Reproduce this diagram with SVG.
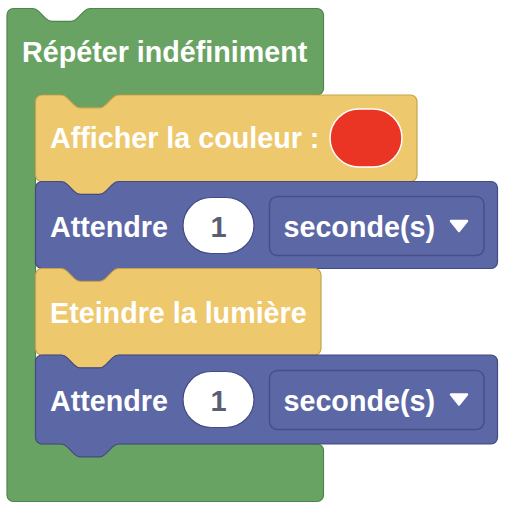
<svg xmlns="http://www.w3.org/2000/svg" width="510" height="512" viewBox="0 0 510 512">
<style>
.lbl{font-family:"Liberation Sans",Arial,sans-serif;font-weight:bold;font-size:28.7px;fill:#ffffff}
.num{font-family:"Liberation Sans",Arial,sans-serif;font-weight:bold;font-size:29px;fill:#575e75;text-anchor:middle}
.green{fill:#69a364;stroke:#4e8549;stroke-width:1.2}
.yellow{fill:#eec86c;stroke:#c9a34c;stroke-width:1.2}
.blue{fill:#5c67a5;stroke:#434b82;stroke-width:1.2}
.oval{fill:#ffffff;stroke:#434b82;stroke-width:1.2}
.dd{fill:#5c67a5;stroke:#474f86;stroke-width:1.5}
.arrow{fill:#ffffff;stroke:#ffffff;stroke-width:2.5;stroke-linejoin:round}
</style>
<rect width="510" height="512" fill="#ffffff"/>
<g id="repeter">
<path class="green" d="M7,14.9 a6.4,6.4 0 0 1 6.4,-6.4 H32.6 c3.2,0 4.8,1.6 6.4,3.2 l6.4,6.4 c1.6,1.6 3.2,3.2 6.4,3.2 h19.2 c3.2,0 4.8,-1.6 6.4,-3.2 l6.4,-6.4 c1.6,-1.6 3.2,-3.2 6.4,-3.2 H317.1 a6.4,6.4 0 0 1 6.4,6.4 V88.6 a6.4,6.4 0 0 1 -6.4,6.4 H118.7 c-3.2,0 -4.8,1.6 -6.4,3.2 l-6.4,6.4 c-1.6,1.6 -3.2,3.2 -6.4,3.2 h-19.2 c-3.2,0 -4.8,-1.6 -6.4,-3.2 l-6.4,-6.4 c-1.6,-1.6 -3.2,-3.2 -6.4,-3.2 H41.9 a6.4,6.4 0 0 0 -6.4,6.4 V437.6 a6.4,6.4 0 0 0 6.4,6.4 H317.1 a6.4,6.4 0 0 1 6.4,6.4 V495.1 a6.4,6.4 0 0 1 -6.4,6.4 H13.4 a6.4,6.4 0 0 1 -6.4,-6.4 Z"/>
<text class="lbl" x="22" y="62">Répéter indéfiniment</text>
</g>
<g id="afficher" transform="translate(35.5,95)">
<path class="yellow" d="M0,6.4 a6.4,6.4 0 0 1 6.4,-6.4 H25.6 c3.2,0 4.8,1.6 6.4,3.2 l6.4,6.4 c1.6,1.6 3.2,3.2 6.4,3.2 h19.2 c3.2,0 4.8,-1.6 6.4,-3.2 l6.4,-6.4 c1.6,-1.6 3.2,-3.2 6.4,-3.2 H375.1 a6.4,6.4 0 0 1 6.4,6.4 V80.1 a6.4,6.4 0 0 1 -6.4,6.4 H83.2 c-3.2,0 -4.8,1.6 -6.4,3.2 l-6.4,6.4 c-1.6,1.6 -3.2,3.2 -6.4,3.2 h-19.2 c-3.2,0 -4.8,-1.6 -6.4,-3.2 l-6.4,-6.4 c-1.6,-1.6 -3.2,-3.2 -6.4,-3.2 H6.4 a6.4,6.4 0 0 1 -6.4,-6.4 Z"/>
<text class="lbl" x="14.5" y="52.5">Afficher la couleur :</text>
<rect x="294.5" y="14" width="72" height="58" rx="29" ry="29" fill="#ea3424" stroke="#ffffff" stroke-width="1.5"/>
</g>
<g id="attendre1" transform="translate(35.5,181.5)">
<path class="blue" d="M0,6.4 a6.4,6.4 0 0 1 6.4,-6.4 H25.6 c3.2,0 4.8,1.6 6.4,3.2 l6.4,6.4 c1.6,1.6 3.2,3.2 6.4,3.2 h19.2 c3.2,0 4.8,-1.6 6.4,-3.2 l6.4,-6.4 c1.6,-1.6 3.2,-3.2 6.4,-3.2 H455.6 a6.4,6.4 0 0 1 6.4,6.4 V80.6 a6.4,6.4 0 0 1 -6.4,6.4 H83.2 c-3.2,0 -4.8,1.6 -6.4,3.2 l-6.4,6.4 c-1.6,1.6 -3.2,3.2 -6.4,3.2 h-19.2 c-3.2,0 -4.8,-1.6 -6.4,-3.2 l-6.4,-6.4 c-1.6,-1.6 -3.2,-3.2 -6.4,-3.2 H6.4 a6.4,6.4 0 0 1 -6.4,-6.4 Z"/>
<text class="lbl" x="14.5" y="55">Attendre</text>
<rect class="oval" x="147.5" y="16" width="71" height="56" rx="28" ry="28"/>
<text class="num" x="183" y="55">1</text>
<rect class="dd" x="234" y="15" width="214.5" height="59" rx="8" ry="8"/>
<text class="lbl" x="248" y="55">seconde(s)</text>
<path class="arrow" d="M415.5,39.5 H431.5 L423.5,49.5 Z"/>
</g>
<g id="eteindre" transform="translate(35.5,268.5)">
<path class="yellow" d="M0,6.4 a6.4,6.4 0 0 1 6.4,-6.4 H25.6 c3.2,0 4.8,1.6 6.4,3.2 l6.4,6.4 c1.6,1.6 3.2,3.2 6.4,3.2 h19.2 c3.2,0 4.8,-1.6 6.4,-3.2 l6.4,-6.4 c1.6,-1.6 3.2,-3.2 6.4,-3.2 H279.1 a6.4,6.4 0 0 1 6.4,6.4 V80.1 a6.4,6.4 0 0 1 -6.4,6.4 H83.2 c-3.2,0 -4.8,1.6 -6.4,3.2 l-6.4,6.4 c-1.6,1.6 -3.2,3.2 -6.4,3.2 h-19.2 c-3.2,0 -4.8,-1.6 -6.4,-3.2 l-6.4,-6.4 c-1.6,-1.6 -3.2,-3.2 -6.4,-3.2 H6.4 a6.4,6.4 0 0 1 -6.4,-6.4 Z"/>
<text class="lbl" x="14.5" y="54.5">Eteindre la lumière</text>
</g>
<g id="attendre2" transform="translate(35.5,355)">
<path class="blue" d="M0,6.4 a6.4,6.4 0 0 1 6.4,-6.4 H25.6 c3.2,0 4.8,1.6 6.4,3.2 l6.4,6.4 c1.6,1.6 3.2,3.2 6.4,3.2 h19.2 c3.2,0 4.8,-1.6 6.4,-3.2 l6.4,-6.4 c1.6,-1.6 3.2,-3.2 6.4,-3.2 H455.6 a6.4,6.4 0 0 1 6.4,6.4 V82.6 a6.4,6.4 0 0 1 -6.4,6.4 H83.2 c-3.2,0 -4.8,1.6 -6.4,3.2 l-6.4,6.4 c-1.6,1.6 -3.2,3.2 -6.4,3.2 h-19.2 c-3.2,0 -4.8,-1.6 -6.4,-3.2 l-6.4,-6.4 c-1.6,-1.6 -3.2,-3.2 -6.4,-3.2 H6.4 a6.4,6.4 0 0 1 -6.4,-6.4 Z"/>
<text class="lbl" x="14.5" y="55.5">Attendre</text>
<rect class="oval" x="147.5" y="16.5" width="71" height="56" rx="28" ry="28"/>
<text class="num" x="183" y="55.5">1</text>
<rect class="dd" x="234" y="15.5" width="214.5" height="59" rx="8" ry="8"/>
<text class="lbl" x="248" y="55.5">seconde(s)</text>
<path class="arrow" d="M415.5,39.5 H431.5 L423.5,49.5 Z"/>
</g>
<g id="connectors"></g>
</svg>
